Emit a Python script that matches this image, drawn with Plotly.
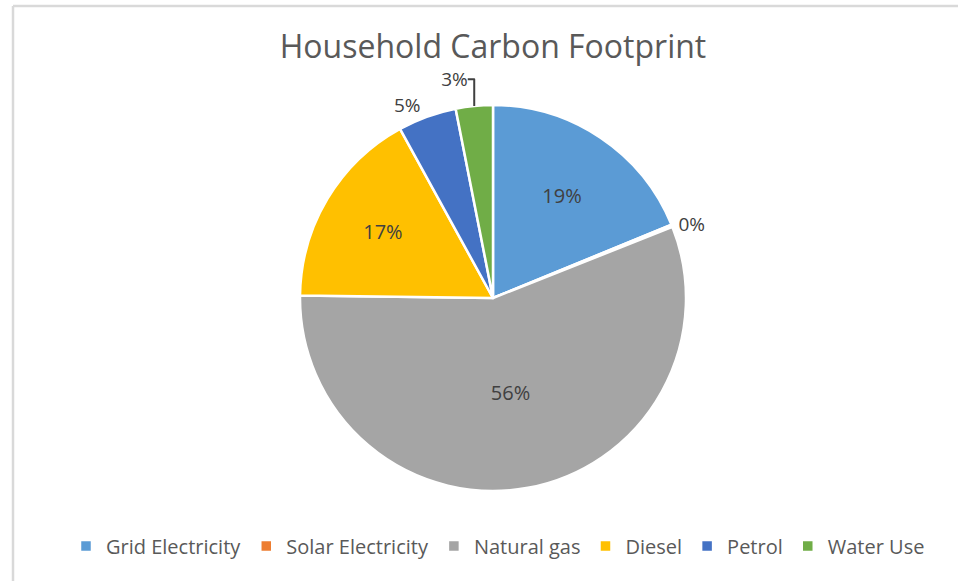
import plotly.graph_objects as go

labels = ["Grid Electricity", "Solar Electricity", "Natural gas", "Diesel", "Petrol", "Water Use"]
values = [18.8, 0.2, 56.2, 16.8, 4.9, 3.1]
colors = ["#5B9BD5", "#ED7D31", "#A5A5A5", "#FFC000", "#4472C4", "#70AD47"]
text_positions = ["inside", "outside", "inside", "inside", "outside", "outside"]
title_text = "Household Carbon Footprint"

W, H = 958, 581
cx, cy, r = 493, 298, 193

fig = go.Figure(go.Pie(
    labels=labels,
    values=values,
    sort=False,
    direction="clockwise",
    rotation=0,
    marker=dict(colors=colors, line=dict(color="white", width=2.5)),
    texttemplate="%{percent:.0%}",
    textposition=text_positions,
    insidetextorientation="horizontal",
    textfont=dict(family="Open Sans", size=20, color="#404040"),
    outsidetextfont=dict(family="Open Sans", size=19, color="#404040"),
    hoverinfo="label+percent",
    domain=dict(x=[(cx - r) / W, (cx + r) / W], y=[1 - (cy + r) / H, 1 - (cy - r) / H]),
))

fig.update_layout(
    width=W, height=H,
    margin=dict(l=0, r=0, t=0, b=0),
    paper_bgcolor="white",
    title=dict(text=title_text, x=cx / W, xanchor="center", y=1 - 47 / H, yanchor="middle",
               font=dict(family="Open Sans", size=32, color="#595959")),
    legend=dict(orientation="h", x=498 / W, xanchor="center", y=1 - 546 / H, yanchor="middle",
                font=dict(family="Open Sans", size=20, color="#595959"),
                itemwidth=30, traceorder="normal"),
    showlegend=True,
    shapes=[
        dict(type="line", xref="paper", yref="paper", x0=13 / W, x1=1, y0=1 - 6 / H, y1=1 - 6 / H,
             line=dict(color="#D9D9D9", width=2.5)),
        dict(type="line", xref="paper", yref="paper", x0=13 / W, x1=13 / W, y0=0, y1=1 - 6 / H,
             line=dict(color="#D9D9D9", width=2.5)),
    ],
)

fig.write_html("out.html")
